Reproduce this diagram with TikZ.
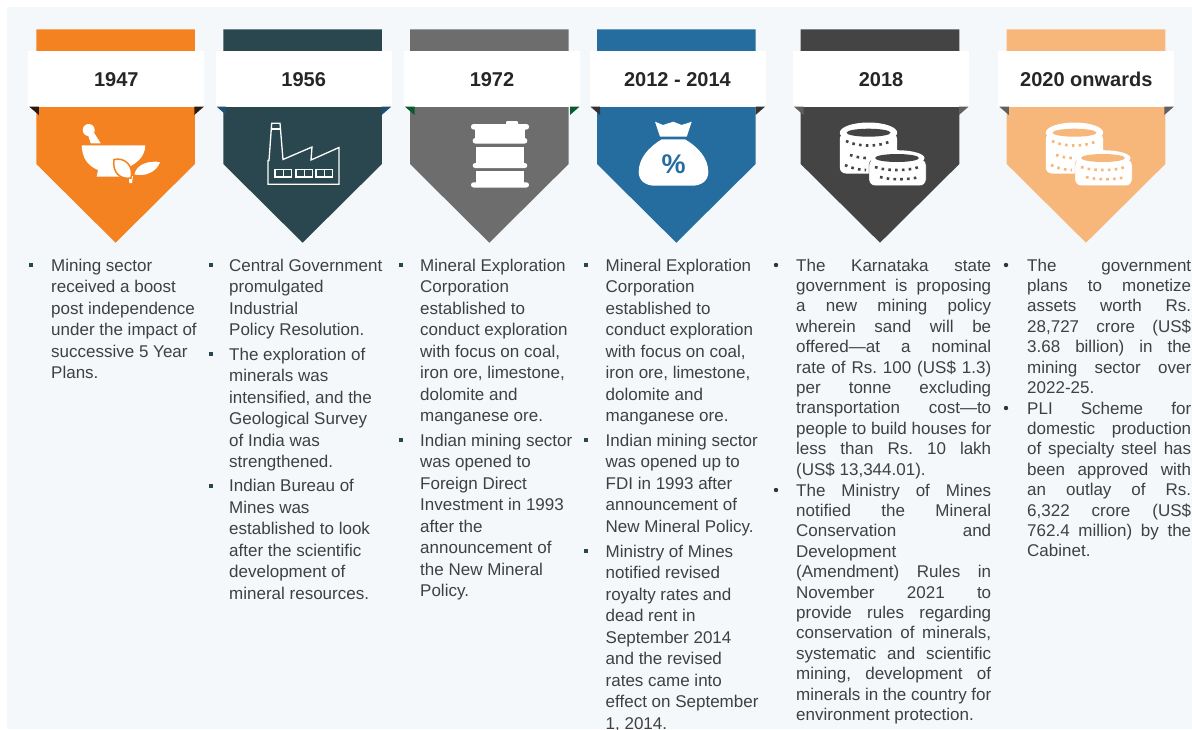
\documentclass[tikz,border=0pt]{standalone}
\usepackage{fontspec}
\setmainfont{Liberation Sans}
\definecolor{pageblue}{HTML}{F4F8FA}
\definecolor{bodygrey}{HTML}{404040}
\definecolor{mineorange}{HTML}{F58220}
\definecolor{mineteal}{HTML}{2A4750}
\definecolor{minegrey}{HTML}{6D6D6D}
\definecolor{mineblue}{HTML}{266D9F}
\definecolor{minedark}{HTML}{444444}
\definecolor{minepeach}{HTML}{F7B77B}
\definecolor{foldnavy}{HTML}{1F4E79}
\definecolor{foldgreen}{HTML}{0B5A2C}
\definecolor{foldbrown}{HTML}{2B1A10}
\definecolor{foldcoal}{HTML}{333333}
\definecolor{foldmid}{HTML}{606060}

% one stack of coins, #1 = shift, #2 = colour behind
\newcommand{\coinicon}[2]{
    \begin{scope}[shift={(#1,0)}]
        \fill[white, rounded corners=6pt] (839.8,133) rectangle (897,173.5);
        \fill[white] (868.5,132.7) ellipse [x radius=28.7, y radius=10.2];
        \fill[#2] (868.5,132.7) ellipse [x radius=22, y radius=4];
        \draw[coindots, #2] (846,141) .. controls (858,147) and (879,147) .. (891,141);
        \draw[coindots, #2] (850,155) .. controls (856,157) and (862,158) .. (866,158);
        \draw[coindots, #2] (845,165) .. controls (851,168) and (860,170) .. (866,170);
        \fill[white, draw=#2, rounded corners=6pt] (869,159) rectangle (926,185.7);
        \fill[white] (897,158) ellipse [x radius=27.5, y radius=7.8];
        \fill[#2] (897,158) ellipse [x radius=22, y radius=4];
        \draw[coindots, #2] (875,167) .. controls (885,171) and (909,171) .. (919,167);
        \draw[coindots, #2] (880,177) .. controls (890,180) and (909,180) .. (919,177);
    \end{scope}
}

\begin{document}
\begin{tikzpicture}[%
        x=1pt, y=-1pt,
        yearbox/.style={
            fill=white,
            minimum width=176pt,
            minimum height=56.3pt,
            inner sep=0pt,
            font=\fontsize{20}{24}\selectfont\bfseries,
            text=black!85,
            text height=14.5pt,
            text depth=0pt,
        },
        itemleft/.style={
            anchor=north west,
            inner sep=0pt,
            align=left,
            text=bodygrey,
            font=\fontsize{17}{21.5}\selectfont,
            execute at begin node=\rule{0pt}{12pt},
        },
        itemjust/.style={
            anchor=north west,
            inner sep=0pt,
            text=bodygrey,
            align=justify,
            font=\fontsize{17}{20.4}\selectfont,
            execute at begin node={\tolerance=10000\hbadness=10000\hfuzz=3pt\frenchspacing\rule{0pt}{12pt}},
        },
        squaremark/.style={
            fill=mineteal,
            minimum size=4pt,
            inner sep=0pt,
        },
        roundmark/.style={
            circle,
            fill=black!80,
            minimum size=4.4pt,
            inner sep=0pt,
        },
        coindots/.style={
            line width=2.6pt,
            dash pattern=on 2.6pt off 4.2pt,
        },
        iconline/.style={
            draw=white,
            line width=1.3pt,
        },
    ]

    \useasboundingbox (0,0) rectangle (1192,729);
    \fill[pageblue] (7,7) rectangle (1192,729);

    % the six banners
    \foreach \i/\bl/\wl/\col/\fold/\yr in {
        1/36.3/28.3/mineorange/foldbrown/1947,
        2/223.3/215.7/mineteal/foldnavy/1956,
        3/410/404/minegrey/foldgreen/1972,
        4/597/589.5/mineblue/foldcoal/2012 - 2014,
        5/800.7/793/minedark/foldmid/2018,
        6/1006.7/998.3/minepeach/foldmid/2020 onwards%
    } {
        \fill[\col] (\bl,29.3) -- (\bl+158.6,29.3) -- (\bl+158.6,164)
            -- (\bl+79.3,242.7) -- (\bl,164) -- cycle;
        \node[yearbox] (year\i) at (\wl+88,78.9) {\yr};
        \fill[\fold] (\wl+1,106.7) -- (\wl+10.5,106.7) -- (\wl+10.5,115) -- cycle;
        \fill[\fold] (\wl+175.5,106.7) -- (\wl+166,106.7) -- (\wl+166,115) -- cycle;
    }

    % mortar
    \fill[white] (88.7,130) circle (6);
    \fill[white] (87,132) -- (91,128) -- (100.7,143.3) -- (90.7,143.3) -- cycle;
    \fill[white] (81.7,145.3) -- (145.3,145.3) .. controls (145,158) and (135,165) .. (122,170)
        -- (122,176.7) -- (96.7,176.7) -- (98,170) .. controls (88,166) and (82,158) .. cycle;
    \fill[white] (129,176) -- (133,176) -- (132,183) -- (129.3,183) -- cycle;
    \filldraw[fill=white, draw=mineorange, line width=1.5pt] (114,159.5) .. controls (125,157) and (134,166) .. (131,178)
        .. controls (120,180) and (112,172) .. cycle;
    \filldraw[fill=white, draw=mineorange, line width=1.2pt] (161,161.5) .. controls (150,160) and (136,162) .. (133.5,175)
        .. controls (146,178) and (158,172) .. cycle;

    % factory
    \draw[iconline, line join=miter] (268,184.3) -- (268,160.5) -- (269,160.5) -- (271.7,123.3) -- (280,123.3) -- (283,159.5)
        -- (312,147) -- (311,160) -- (339,147.5) -- (339,184.3) -- cycle;
    \draw[iconline] (271.5,129) -- (280.3,129);
    \foreach \wx in {275,296,316} {
        \draw[iconline, line width=1.1pt] (\wx,169.5) rectangle (\wx+16.5,177);
        \draw[iconline, line width=1.1pt] (\wx+8.2,169.5) -- (\wx+8.2,177);
    }

    % barrel
    \fill[white, rounded corners=2.5pt] (471,124) rectangle (529,129.5);
    \fill[white, rounded corners=1pt] (506,121) rectangle (518,125);
    \fill[white] (475,129) rectangle (525,139);
    \fill[white, rounded corners=2.5pt] (472.7,138) rectangle (527.3,143.5);
    \fill[white] (476,146.7) rectangle (524,164);
    \fill[white, rounded corners=2.5pt] (472.7,163) rectangle (527.3,168);
    \fill[white] (476,171) rectangle (524,183);
    \fill[white, rounded corners=2.5pt] (471,182.3) rectangle (529,187.5);

    % money bag
    \fill[white] (655,121.7) -- (663,125) -- (673.3,121.7) -- (681.7,125) -- (691.7,121.7)
        -- (686.7,136.7) -- (660,136.7) -- cycle;
    \fill[white] (661.7,139.3) -- (685,139.3) .. controls (698,147) and (708.3,158) .. (708.3,172)
        .. controls (708.3,181) and (701,185.7) .. (692,185.7) -- (655,185.7)
        .. controls (646,185.7) and (638.7,181) .. (638.7,172) .. controls (638.7,158) and (649,147) .. cycle;
    \node[inner sep=0pt, text=mineblue, font=\fontsize{27}{30}\selectfont\bfseries] (percent) at (673.5,164) {\%};

    % coins
    \coinicon{0}{minedark}
    \coinicon{206}{minepeach}

    % the bullets
    \foreach \mx/\my in {31/265, 211/265, 211/354, 211/485.5, 400.5/265, 400.5/440, 586/265, 586/440, 586/551}
        \node[squaremark] (mark-\mx-\my) at (\mx,\my) {};
    \foreach \mx/\my in {776/265, 776/490, 1006/265, 1006/408}
        \node[roundmark] (mark-\mx-\my) at (\mx,\my) {};

    \node[itemleft] (item11) at (51,258.5) {Mining sector\\received a boost\\post independence\\under the impact of\\successive 5 Year\\Plans.};

    \node[itemleft] (item21) at (229,258.5) {Central Government\\promulgated\\Industrial\\Policy Resolution.};
    \node[itemleft] (item22) at (229,347.5) {The exploration of\\minerals was\\intensified, and the\\Geological Survey\\of India was\\strengthened.};
    \node[itemleft] (item23) at (229,479) {Indian Bureau of\\Mines was\\established to look\\after the scientific\\development of\\mineral resources.};

    \node[itemleft] (item31) at (420,258.5) {Mineral Exploration\\Corporation\\established to\\conduct exploration\\with focus on coal,\\iron ore, limestone,\\dolomite and\\manganese ore.};
    \node[itemleft] (item32) at (420,433.5) {Indian mining sector\\was opened to\\Foreign Direct\\Investment in 1993\\after the\\announcement of\\the New Mineral\\Policy.};

    \node[itemleft] (item41) at (605.5,258.5) {Mineral Exploration\\Corporation\\established to\\conduct exploration\\with focus on coal,\\iron ore, limestone,\\dolomite and\\manganese ore.};
    \node[itemleft] (item42) at (605.5,433.5) {Indian mining sector\\was opened up to\\FDI in 1993 after\\announcement of\\New Mineral Policy.};
    \node[itemleft] (item43) at (605.5,544.5) {Ministry of Mines\\notified revised\\royalty rates and\\dead rent in\\September 2014\\and the revised\\rates came into\\effect on September\\1, 2014.};

    \node[itemjust, text width=195pt] (item51) at (796,258.5) {The Karnataka state\linebreak
        government is proposing\linebreak
        a new mining policy\linebreak
        wherein sand will be\linebreak
        offered—at a nominal\linebreak
        rate of Rs. 100 (US\$ 1.3)\linebreak
        per tonne excluding\linebreak
        transportation cost—to\linebreak
        people to build houses for\linebreak
        less than Rs. 10 lakh\linebreak
        (US\$ 13,344.01).};
    \node[itemjust, text width=195pt] (item52) at (796,483.5) {The Ministry of Mines\linebreak
        notified the Mineral\linebreak
        Conservation and\linebreak
        Development\linebreak
        (Amendment) Rules in\linebreak
        November 2021 to\linebreak
        provide rules regarding\linebreak
        conservation of minerals,\linebreak
        systematic and scientific\linebreak
        mining, development of\linebreak
        minerals in the country for\linebreak
        environment protection.};

    \node[itemjust, text width=164pt] (item61) at (1027,258.5) {The government\linebreak
        plans to monetize\linebreak
        assets worth Rs.\linebreak
        28,727 crore (US\$\linebreak
        3.68 billion) in the\linebreak
        mining sector over\linebreak
        2022-25.};
    \node[itemjust, text width=164pt] (item62) at (1027,401.5) {PLI Scheme for\linebreak
        domestic production\linebreak
        of specialty steel has\linebreak
        been approved with\linebreak
        an outlay of Rs.\linebreak
        6,322 crore (US\$\linebreak
        762.4 million) by the\linebreak
        Cabinet.};

\end{tikzpicture}
\end{document}
